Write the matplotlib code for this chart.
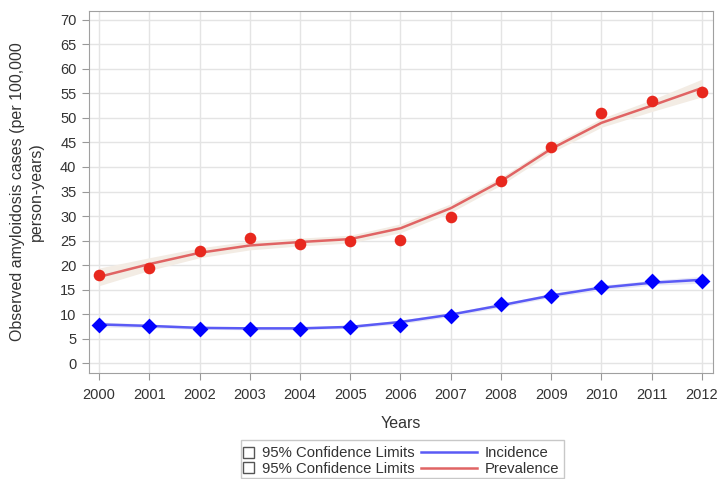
import matplotlib
matplotlib.use("Agg")
import matplotlib.pyplot as plt
from matplotlib.patches import Patch, Rectangle
from matplotlib.lines import Line2D

plt.rcParams['font.family'] = ['Liberation Sans', 'DejaVu Sans']

years = [2000, 2001, 2002, 2003, 2004, 2005, 2006, 2007, 2008, 2009, 2010, 2011, 2012]
prev_obs = [18.0, 19.5, 22.9, 25.5, 24.3, 24.9, 25.2, 29.9, 37.1, 44.1, 51.0, 53.5, 55.2]
prev_fit = [17.6, 20.2, 22.5, 24.0, 24.7, 25.3, 27.5, 31.6, 37.1, 43.7, 49.0, 52.5, 56.1]
prev_lo = [15.8, 18.9, 21.5, 23.1, 23.9, 24.5, 26.6, 30.7, 36.3, 42.9, 48.1, 51.3, 54.3]
prev_hi = [19.4, 21.5, 23.5, 24.9, 25.5, 26.1, 28.4, 32.5, 37.9, 44.5, 49.9, 53.7, 57.9]
inc_obs = [7.75, 7.6, 7.0, 7.0, 7.0, 7.3, 7.75, 9.6, 12.0, 13.7, 15.6, 16.7, 16.7]
inc_fit = [7.9, 7.6, 7.2, 7.1, 7.1, 7.4, 8.4, 9.9, 11.8, 13.8, 15.4, 16.4, 17.0]
inc_lo = [7.4, 7.2, 6.9, 6.8, 6.8, 7.1, 8.0, 9.5, 11.4, 13.4, 14.9, 15.9, 16.3]
inc_hi = [8.4, 8.0, 7.5, 7.4, 7.4, 7.7, 8.8, 10.3, 12.2, 14.2, 15.9, 16.9, 17.7]
y_ticks = list(range(0, 75, 5))

W, H = 718, 479
fig = plt.figure(figsize=(W / 100, H / 100), dpi=100)
ax = fig.add_axes([89 / W, 1 - 373 / H, 624 / W, 362 / H])

ax.fill_between(years, prev_lo, prev_hi, color='#f3ece4', lw=0, zorder=2)
ax.fill_between(years, inc_lo, inc_hi, color='#e8e8f6', lw=0, zorder=2)
ax.plot(years, inc_fit, color='#5a5af5', lw=1.8, zorder=3)
ax.plot(years, prev_fit, color='#e06464', lw=1.8, zorder=3)
ax.scatter(years, prev_obs, s=70, color='#e8281e', zorder=4, linewidths=0)
ax.scatter(years, inc_obs, s=65, marker='D', color='#0000ff', zorder=4, linewidths=0)

ax.set_xlim(1999.8, 2012.22)
ax.set_ylim(-2, 71.8)
ax.set_xticks(years)
ax.set_yticks(y_ticks)
ax.tick_params(labelsize=10.5, colors='#333333', length=5, color='#999999', pad=4)
ax.tick_params(axis='x', pad=6)
ax.grid(True, color='#e4e4e4', lw=1)
ax.set_axisbelow(True)
for s in ax.spines.values():
    s.set_color('#a0a0a0')

ax.set_xlabel('Years', fontsize=11.5, color='#333333', labelpad=10)
ax.set_ylabel('Observed amyloidosis cases (per 100,000\nperson-years)', fontsize=11.5,
              color='#333333', labelpad=12, linespacing=1.3)

# legend: two frameless parts inside one frame
fig.patches.append(Rectangle((241 / W, 1 - 478 / H), 323 / W, 38 / H, transform=fig.transFigure,
                             facecolor='white', edgecolor='#c8c8c8', lw=1, zorder=1))
ph = [Patch(facecolor='white', edgecolor='#555555', lw=1),
      Patch(facecolor='white', edgecolor='#555555', lw=1)]
leg1 = fig.legend(ph, ['95% Confidence Limits', '95% Confidence Limits'], loc='upper left',
                  bbox_to_anchor=(240 / W, 1 - 443.5 / H), fontsize=10.7, frameon=False,
                  handlelength=0.75, handleheight=0.75, handletextpad=0.55,
                  labelspacing=0.1, borderpad=0.2, borderaxespad=0)
lh = [Line2D([0], [0], color='#5a5af5', lw=1.8), Line2D([0], [0], color='#e06464', lw=1.8)]
leg2 = fig.legend(lh, ['Incidence', 'Prevalence'], loc='upper left',
                  bbox_to_anchor=(418 / W, 1 - 443.5 / H), fontsize=10.7, frameon=False,
                  handlelength=3.8, handletextpad=0.5,
                  labelspacing=0.1, borderpad=0.2, borderaxespad=0)
for lg in (leg1, leg2):
    for t in lg.get_texts():
        t.set_color('#333333')

fig.savefig('out.png', dpi=100)
